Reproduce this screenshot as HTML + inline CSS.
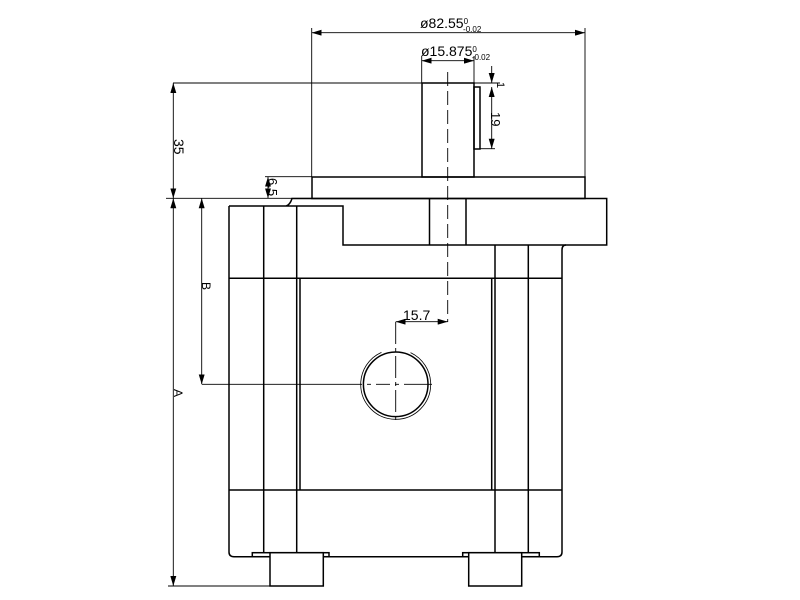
<!DOCTYPE html>
<html><head><style>body{margin:0;background:#fff}svg{display:block}</style></head><body>
<svg width="800" height="600" viewBox="0 0 800 600" xmlns="http://www.w3.org/2000/svg" font-family="Liberation Sans, sans-serif">
<defs><marker id="a" viewBox="0 0 10 6" refX="10" refY="3" markerWidth="10" markerHeight="6" orient="auto-start-reverse" markerUnits="userSpaceOnUse"><path d="M0,0L10,3L0,6z" fill="#000"/></marker></defs>
<g stroke="#000" stroke-width="1.5" fill="none">
<rect x="422" y="83" width="52" height="94"/>
<rect x="474" y="87" width="6" height="62"/>
<rect x="312" y="177" width="273" height="21.5"/>
<path d="M229,206 H343 V245 H606.7 V198.5 H292 Q290,205 286,206"/>
<line x1="429.5" y1="198.5" x2="429.5" y2="245"/>
<line x1="466" y1="198.5" x2="466" y2="245"/>
<path d="M229,206 V552 Q229,556.7 234,556.7 H557 Q562,556.7 562,552 V250 Q562,245 566,245"/>
<line x1="263.7" y1="206" x2="263.7" y2="552.7"/>
<line x1="296.7" y1="206" x2="296.7" y2="552.7"/>
<line x1="495" y1="245" x2="495" y2="552.7"/>
<line x1="528.3" y1="245" x2="528.3" y2="552.7"/>
<line x1="229" y1="278.3" x2="562" y2="278.3"/>
<line x1="229" y1="490" x2="562" y2="490"/>
<line x1="300" y1="278.3" x2="300" y2="490"/>
<line x1="491.7" y1="278.3" x2="491.7" y2="490"/>
<rect x="252.3" y="552.7" width="76.7" height="4"/>
<rect x="270" y="552.7" width="53.3" height="33.3" fill="#fff"/>
<rect x="462.7" y="552.7" width="76.6" height="4"/>
<rect x="468.7" y="552.7" width="53" height="33.3" fill="#fff"/>
<circle cx="395.7" cy="384.3" r="32.3"/>
<circle cx="395.7" cy="384.3" r="35" stroke-width="0.8" stroke-dasharray="150 30"/>
</g>
<g stroke="#000" stroke-width="0.9" fill="none">
<line x1="447.7" y1="72" x2="447.7" y2="322" stroke-dasharray="14 5"/>
<line x1="395.7" y1="322" x2="395.7" y2="420" stroke-dasharray="22 4 4 4"/>
<line x1="202" y1="384.3" x2="432" y2="384.3" stroke-dasharray="160 5 4 5 14 5 4 5"/>
<line x1="311.7" y1="28" x2="311.7" y2="177"/><line x1="585" y1="28" x2="585" y2="177"/>
<line x1="311.7" y1="32.7" x2="585" y2="32.7" marker-start="url(#a)" marker-end="url(#a)"/>
<line x1="421.7" y1="56" x2="421.7" y2="83"/><line x1="474" y1="56" x2="474" y2="83"/>
<line x1="421.7" y1="60.7" x2="474" y2="60.7" marker-start="url(#a)" marker-end="url(#a)"/>
<line x1="173" y1="83" x2="500" y2="83"/>
<line x1="480" y1="148.7" x2="495" y2="148.7"/>
<line x1="491.7" y1="66" x2="491.7" y2="83" marker-end="url(#a)"/>
<line x1="491.7" y1="87" x2="491.7" y2="148.7" marker-start="url(#a)" marker-end="url(#a)"/>
<line x1="173.3" y1="83" x2="173.3" y2="198.3" marker-start="url(#a)" marker-end="url(#a)"/>
<line x1="166" y1="198.3" x2="312" y2="198.3"/>
<line x1="265" y1="176.7" x2="312" y2="176.7"/>
<line x1="268" y1="176.7" x2="268" y2="198.3" marker-start="url(#a)" marker-end="url(#a)"/>
<line x1="173.3" y1="198.3" x2="173.3" y2="586" marker-start="url(#a)" marker-end="url(#a)"/>
<line x1="168" y1="586" x2="270" y2="586"/>
<line x1="201.7" y1="198.3" x2="201.7" y2="384.3" marker-start="url(#a)" marker-end="url(#a)"/>
<line x1="395.7" y1="321.7" x2="447.7" y2="321.7" marker-start="url(#a)" marker-end="url(#a)"/>
</g>
<g font-size="14" fill="#000">
<text x="420" y="28">ø82.55<tspan font-size="8" dy="-4">0</tspan><tspan font-size="8" dx="-5" dy="8">-0.02</tspan></text>
<text x="421" y="56">ø15.875<tspan font-size="8" dy="-4">0</tspan><tspan font-size="8" dx="-5" dy="8">-0.02</tspan></text>
<text x="403" y="320">15.7</text>
<text transform="translate(174,139) rotate(90)" font-size="14">35</text>
<text transform="translate(268,178) rotate(90)" font-size="13">6.5</text>
<text transform="translate(491,112) rotate(90)" font-size="13">19</text>
<text transform="translate(497,82) rotate(90)" font-size="11">1</text>
<text transform="translate(202,282) rotate(90)" font-size="12">B</text>
<text transform="translate(174,389) rotate(90)" font-size="12">A</text>
</g>
</svg>
</body></html>
